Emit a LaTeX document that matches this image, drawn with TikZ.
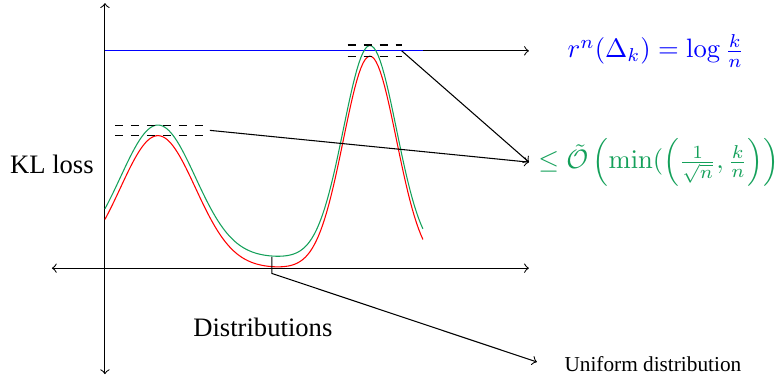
\documentclass[tikz,border=0pt]{standalone}
\usepackage[no-math]{fontspec}
\setmainfont{Liberation Serif}
\usepackage{amsmath}
\definecolor{curvegreen}{RGB}{20,160,90}
\begin{document}
\begin{tikzpicture}[scale=0.7]
\useasboundingbox (-1.98,-2.08) rectangle (12.7,5.06);

% Axes
\draw[<->]
(0,-2)
--
(0,5);
\draw[<->]
(-1,0)
--
(8,0);

% Niveau
\coordinate (levelL) at (0,4.1);
\coordinate (levelM) at (6,4.1);
\coordinate (levelR) at (8,4.1);
\draw[->] (levelL) -- (levelR);
\draw[blue] (levelL) -- (levelM);

% Courbes
\draw[red, domain=0:6, samples=150]
plot (\x, {2.5*exp(-((\x-1)*(\x-1))) + 4*exp(-2*((\x-5)*(\x-5)))});
\draw[curvegreen, domain=0:6, samples=150]
plot (\x, {0.2 + 2.5*exp(-((\x-1)*(\x-1))) + 4*exp(-2*((\x-5)*(\x-5)))});

% Pics
\draw[dashed] (0.19,2.69) -- (1.89,2.69);
\draw[dashed] (0.19,2.50) -- (1.89,2.50);
\draw[dashed] (4.58,4.21) -- (5.6,4.21);
\draw[dashed] (4.58,3.99) -- (5.6,3.99);
\coordinate (peakL) at (1.98,2.6);
\coordinate (peakR) at (5.6,4.1);

% Borne
\coordinate (meet) at (8,2);
\node[curvegreen, anchor=west] (bound) at (meet)
{$\leq \tilde{\mathcal{O}}\left(\min(\left(\frac{1}{\sqrt{n}},\frac{k}{n}\right)\right)$};
\draw[->] (peakL) -- (meet);
\draw[->] (peakR) -- (meet);

\node[blue] (regret) at (10.4,4.1)
{$r^n(\Delta_k) = \log\frac{k}{n}$};

% Uniforme
\coordinate (valleyT) at (3.15,0.21);
\coordinate (valleyB) at (3.15,-0.1);
\coordinate (unifTip) at (8.15,-1.77);
\draw[->] (valleyT) -- (valleyB) -- (unifTip);
\node (unif) at (10.34,-1.81)
{\footnotesize Uniform distribution};

\node (kl) at (-1.0,1.96)
{KL loss};

\node (dist) at (2.98,-1.11)
{Distributions};

\end{tikzpicture}
\end{document}
